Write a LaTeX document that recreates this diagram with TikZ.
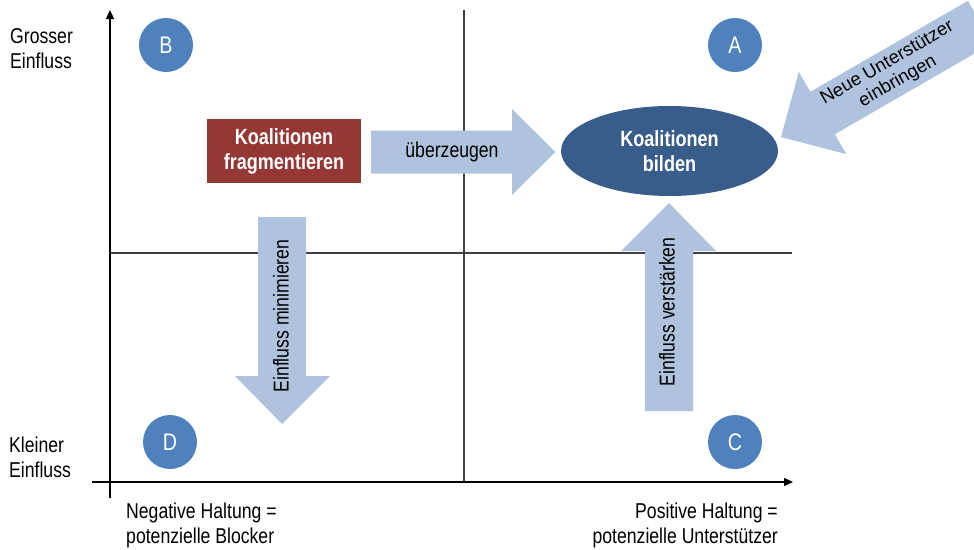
\documentclass[tikz,border=0pt]{standalone}
\usepackage{fontspec}
\setmainfont[FakeStretch=0.82]{Liberation Sans}
\newfontfamily\plainsans{Liberation Sans}
\usetikzlibrary{arrows.meta,shapes.geometric}

\definecolor{quadblue}{HTML}{4F81BD}
\definecolor{ovalblue}{HTML}{385D8A}
\definecolor{boxred}{HTML}{953735}
\definecolor{arrowblue}{HTML}{B0C3DE}
\definecolor{gridgray}{HTML}{404040}

\begin{document}
\begin{tikzpicture}[x=1pt,y=-1pt,
  axisline/.style={line width=1.4pt, black, -{Triangle[length=9pt,width=8pt]}},
  gridline/.style={line width=1.4pt, gridgray},
  quadrant/.style={circle, fill=quadblue, minimum size=54pt, inner sep=0pt,
    text=white, font=\fontsize{24}{28}\selectfont},
  axislabel/.style={inner sep=0pt, font=\fontsize{21.5}{25}\selectfont},
  blockarrow/.style={fill=arrowblue},
  arrowtext/.style={inner sep=0pt, font=\fontsize{21.5}{25}\selectfont},
  strongtext/.style={text=white, align=center, inner sep=0pt,
    font=\fontsize{22}{25}\selectfont\bfseries}]

\clip (0,0) rectangle (974,549);

% grid and axes
\coordinate (ybottom) at (110,498);
\coordinate (ytop)    at (110,10);
\coordinate (xleft)   at (92,482);
\coordinate (xright)  at (793,482);
\coordinate (hmidl)   at (110,253);
\coordinate (hmidr)   at (792,253);
\coordinate (vmidt)   at (464,10);
\coordinate (vmidb)   at (464,482);
\draw[gridline] (hmidl) -- (hmidr);
\draw[gridline] (vmidt) -- (vmidb);
\draw[axisline] (ybottom) -- (ytop);
\draw[axisline] (xleft) -- (xright);

% axis labels
\node[axislabel, anchor=west, align=left] (high) at (10,49) {Grosser\\Einfluss};
\node[axislabel, anchor=west, align=left] (low) at (9,457) {Kleiner\\Einfluss};
\node[axislabel, anchor=west, align=left] (neg) at (126,525.5) {Negative Haltung =\\potenzielle Blocker};
\node[axislabel, anchor=east, align=right] (pos) at (778,525.5) {Positive Haltung =\\potenzielle Unterstützer};

% quadrant markers
\node[quadrant] (qB) at (166,45)  {B};
\node[quadrant] (qA) at (735,45)  {A};
\node[quadrant] (qD) at (170,442) {D};
\node[quadrant] (qC) at (735,442) {C};

% block arrows
\fill[blockarrow] (371,130.5) -- (512,130.5) -- (512,109) -- (555.5,152)
  -- (512,195) -- (512,173.5) -- (371,173.5) -- cycle;
\node[arrowtext] (persuade) at (452,152) {überzeugen};

\fill[blockarrow] (258,217) -- (306,217) -- (306,376) -- (330,376)
  -- (282,424) -- (235,376) -- (258,376) -- cycle;
\node[arrowtext, rotate=90] (minimise) at (281,316) {Einfluss minimieren};

\fill[blockarrow] (645,411) -- (693,411) -- (693,251) -- (716,251)
  -- (669,203) -- (621,251) -- (645,251) -- cycle;
\node[arrowtext, rotate=90] (strengthen) at (667,312) {Einfluss verstärken};

\begin{scope}[shift={(781,137)}, rotate=30]
  \fill[blockarrow] (0,0) -- (48,-47.5) -- (48,-24.5) -- (230,-24.5)
    -- (230,24.5) -- (48,24.5) -- (48,47.5) -- cycle;
  \node[rotate=30, align=center, inner sep=0pt,
    font=\plainsans\fontsize{18.5}{21}\selectfont] (recruit) at (129,0)
    {Neue Unterstützer\\einbringen};
\end{scope}

% strategy shapes
\node[rectangle, fill=boxred, minimum width=154pt, minimum height=64pt,
  strongtext] (fragment) at (284,151) {Koalitionen\\fragmentieren};
\node[ellipse, fill=ovalblue, minimum width=217pt, minimum height=90pt,
  strongtext] (build) at (669.5,151) {Koalitionen\\bilden};

\end{tikzpicture}
\end{document}
